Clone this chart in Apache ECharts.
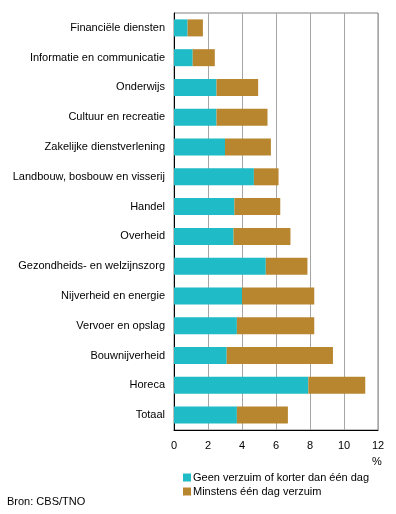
<!DOCTYPE html>
<html><head><meta charset="utf-8">
<script src="https://cdn.jsdelivr.net/npm/echarts@6/dist/echarts.min.js"></script>
<style>html,body{margin:0;padding:0;background:#fff}#c{width:396px;height:514px}</style>
</head><body><div id="c"></div>
<script>
const categories = ["Financiële diensten","Informatie en communicatie","Onderwijs","Cultuur en recreatie","Zakelijke dienstverlening","Landbouw, bosbouw en visserij","Handel","Overheid","Gezondheids- en welzijnszorg","Nijverheid en energie","Vervoer en opslag","Bouwnijverheid","Horeca","Totaal"];
const geenVerzuim = [0.8,1.1,2.5,2.5,3.0,4.7,3.55,3.5,5.4,4.0,3.7,3.1,7.9,3.7];
const minstensEenDag = [0.9,1.3,2.45,3.0,2.7,1.45,2.7,3.35,2.45,4.25,4.55,6.25,3.35,3.0];
const seriesNames = ["Geen verzuim of korter dan één dag","Minstens één dag verzuim"];
const font = "Liberation Sans, Arial, sans-serif";
const chart = echarts.init(document.getElementById('c'));
chart.setOption({
  animation:false,
  textStyle:{fontFamily:font},
  grid:{left:174,right:18,top:13,bottom:84,show:true,borderColor:'#808080',borderWidth:1},
  xAxis:{type:'value',min:0,max:12,interval:2,
    axisLine:{show:true,lineStyle:{color:'#000'}},axisTick:{show:false},
    splitLine:{lineStyle:{color:'#a6a6a6',width:1}},
    axisLabel:{color:'#000',fontSize:11,fontFamily:font,margin:10}},
  yAxis:{type:'category',inverse:true,data:categories,
    axisLine:{show:true,lineStyle:{color:'#000'}},axisTick:{show:false},
    axisLabel:{color:'#000',fontSize:11,fontFamily:font,margin:9}},
  legend:{orient:'vertical',left:178,top:467,itemWidth:8,itemHeight:8,itemGap:3,
    icon:'rect',textStyle:{fontSize:11,fontFamily:font,color:'#000',padding:[0,0,0,-3]},
    data:seriesNames},
  graphic:[
    {type:'text',left:372,top:456,style:{text:'%',fontSize:11,fontFamily:font,fill:'#000'}},
    {type:'text',left:7,top:496,style:{text:'Bron: CBS/TNO',fontSize:11,fontFamily:font,fill:'#000'}}
  ],
  series:[
    {name:seriesNames[0],type:'bar',stack:'a',data:geenVerzuim,barWidth:17,itemStyle:{color:'#1fbbc6'}},
    {name:seriesNames[1],type:'bar',stack:'a',data:minstensEenDag,barWidth:17,itemStyle:{color:'#b98630'}}
  ]
});
</script></body></html>
